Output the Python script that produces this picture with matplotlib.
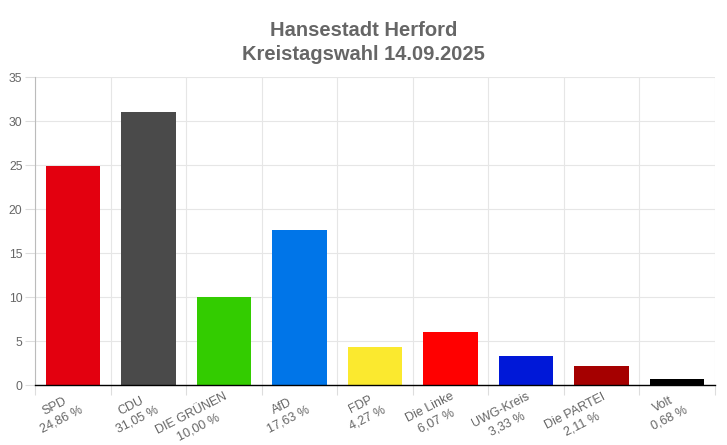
import numpy as np
import matplotlib.pyplot as plt
from matplotlib import font_manager

parties = ["SPD", "CDU", "DIE GRÜNEN", "AfD", "FDP", "Die Linke", "UWG-Kreis", "Die PARTEI", "Volt"]
shares = [24.86, 31.05, 10.00, 17.63, 4.27, 6.07, 3.33, 2.11, 0.68]
colors = ["#e3000f", "#4a4a4a", "#33cc00", "#0075e8", "#fbe92f", "#ff0000", "#0018d8", "#a50000", "#000000"]

names = {f.name for f in font_manager.fontManager.ttflist}
title_font = "Liberation Sans Narrow" if "Liberation Sans Narrow" in names else "Liberation Sans"
plt.rcParams['font.family'] = ['Liberation Sans', 'DejaVu Sans']

fig = plt.figure(figsize=(7.27, 4.45), dpi=100)
ax = fig.add_axes([35 / 727, 60 / 445, 680 / 727, 308 / 445])

x = np.arange(len(parties))
ax.bar(x, shares, width=0.72, color=colors, zorder=3)

ax.set_xlim(-0.5, len(parties) - 0.5)
ax.set_ylim(0, 35)
ax.set_yticks(np.arange(0, 36, 5))
ax.set_xticks(x)
labels = ["%s\n%s %%" % (p, ("%.2f" % v).replace(".", ",")) for p, v in zip(parties, shares)]
ax.set_xticklabels(labels, rotation=27, ha='right', va='top', rotation_mode='anchor',
                   multialignment='center', color='#666666', fontsize=9, linespacing=1.35)
ax.set_xticks(np.arange(-0.5, len(parties)), minor=True)
ax.tick_params(axis='x', which='major', length=0, pad=4)
ax.tick_params(axis='x', which='minor', length=7, color='#dddddd', width=0.8)
ax.tick_params(axis='y', length=7, color='#dddddd', width=0.8, labelsize=8.8, labelcolor='#666666', pad=2)

ax.grid(True, which='minor', axis='x', color='#e6e6e6', lw=0.8, zorder=0)
ax.grid(True, which='major', axis='y', color='#e6e6e6', lw=0.8, zorder=0)

for s in ['top', 'right']:
    ax.spines[s].set_visible(False)
ax.spines['left'].set_color('#bbbbbb')
ax.spines['left'].set_linewidth(0.8)
ax.spines['bottom'].set_color('#000000')
ax.spines['bottom'].set_linewidth(1.0)
ax.spines['bottom'].set_zorder(4)

fig.text(0.5, 1 - 31 / 445, "Hansestadt Herford", ha='center', va='center',
         fontsize=14.5, fontweight='bold', color='#666666', family=title_font)
fig.text(0.5, 1 - 55 / 445, "Kreistagswahl 14.09.2025", ha='center', va='center',
         fontsize=14.5, fontweight='bold', color='#666666', family=title_font)

fig.savefig("out.png", dpi=100)
